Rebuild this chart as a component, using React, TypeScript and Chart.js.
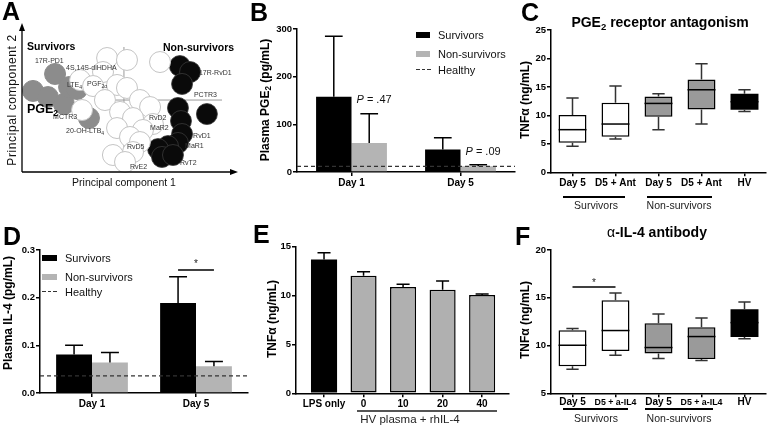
import React, { useEffect, useRef } from 'react';
import { Chart, registerables } from 'chart.js';

Chart.register(...registerables);

const FONT = '"Liberation Sans", Arial, Helvetica, sans-serif';

/* ---------------- Panel A : principal component scores ---------------- */
const neutralPC1 = [39.4, 48.6, 63.9, 37.5, 26.9, 32.9, 44.0, 48.6, 38.4, 54.6, 59.3, 27.8, 45.4, 51.4, 60.6, 44.0, 56.0, 50.0, 54.6, 51.4, 42.1, 47.7];
const neutralPC2 = [76.5, 75.2, 73.8, 67.1, 61.7, 57.7, 58.4, 56.4, 48.3, 48.3, 43.6, 41.6, 40.3, 36.2, 32.2, 29.5, 28.2, 23.5, 20.1, 13.4, 11.4, 6.7];
const survivorPC1 = [15.3, 5.1, 12.0, 19.4, 21.8, 25.5, 31.0];
const survivorPC2 = [65.8, 54.4, 50.3, 45.6, 57.0, 55.7, 36.2];
const nonSurvivorPC1 = [73.1, 77.8, 74.1, 72.2, 73.6, 85.6, 74.1, 72.2, 67.6, 63.0, 64.8, 69.9];
const nonSurvivorPC2 = [71.1, 67.1, 59.1, 43.0, 34.2, 38.9, 25.5, 19.5, 17.4, 15.4, 10.1, 11.4];
const mediatorNames = ['17R-PD1', '4S,14S-diHDHA', 'LTE', 'PGF', 'MCTR3', '20-OH-LTB', '17R-RvD1', 'PCTR3', 'RvD2', 'MaR2', 'RvD1', 'MaR1', 'RvD5', 'RvT2', 'RvE2'];
const mediatorSubs = ['', '', '4', '2\u03b1', '', '4', '', '', '', '', '', '', '', '', ''];
const mediatorPC1 = [6.0, 20.4, 20.8, 30.1, 14.4, 20.4, 81.9, 79.6, 58.8, 59.3, 79.2, 75.5, 48.6, 73.1, 50.0];
const mediatorPC2 = [74.5, 69.8, 58.4, 59.1, 36.9, 27.5, 66.4, 51.7, 36.2, 29.5, 24.2, 17.4, 16.8, 6.0, 3.4];
const keyMediator = 'PGE';
const keyMediatorSub = '2';
const keyMediatorPC1 = 2.3;
const keyMediatorPC2 = 41.6;
const guidePC1 = 47.2;
const guidePC2Span = [4.7, 83.9];
const guidePC2 = 48.3;
const guidePC1Span = [36.1, 92.6];

/* ---------------- Panel B : plasma PGE2 ---------------- */
const dayLabels = ['Day 1', 'Day 5'];
const pgeSurvivors = [158, 47];
const pgeSurvivorsErr = [127, 25];
const pgeNonSurvivors = [61, 12];
const pgeNonSurvivorsErr = [61, 3];
const pgeHealthy = 12;
const pgePValues = ['.47', '.09'];
const pgePValueY = [151, 42.6];

/* ---------------- Panel C : PGE2 receptor antagonism ---------------- */
const antLabels = ['Day 5', 'D5 + Ant', 'Day 5', 'D5 + Ant', 'HV'];
const antMin = [4.56, 5.85, 7.49, 8.48, 10.7];
const antQ1 = [5.2, 6.26, 9.77, 11.05, 11.0];
const antMedian = [7.49, 8.48, 12.1, 14.5, 12.4];
const antQ3 = [10.06, 12.22, 13.33, 16.3, 13.8];
const antMax = [13.04, 15.15, 13.8, 19.06, 14.5];

/* ---------------- Panel D : plasma IL-4 ---------------- */
const il4Survivors = [0.081, 0.189];
const il4SurvivorsErr = [0.019, 0.055];
const il4NonSurvivors = [0.064, 0.056];
const il4NonSurvivorsErr = [0.021, 0.010];
const il4Healthy = 0.036;
const il4SigLine = 0.258;
const il4SigStar = 0.275;

/* ---------------- Panel E : rhIL-4 ---------------- */
const rhLabels = ['LPS only', '0', '10', '20', '40'];
const rhTnf = [13.7, 12.04, 10.88, 10.6, 10.06];
const rhTnfErr = [0.69, 0.40, 0.27, 0.89, 0.10];

/* ---------------- Panel F : anti-IL-4 antibody ---------------- */
const abLabels = ['Day 5', 'D5 + a-IL4', 'Day 5', 'D5 + a-IL4', 'HV'];
const abMin = [7.52, 8.99, 8.64, 8.43, 10.7];
const abQ1 = [7.83, 9.44, 9.16, 8.6, 10.9];
const abMedian = [10.03, 11.57, 9.79, 10.94, 12.4];
const abQ3 = [11.6, 14.75, 12.34, 11.92, 13.8];
const abMax = [11.78, 15.5, 13.3, 12.87, 14.55];
const abSigLine = 16.13;
const abSigStar = 16.75;

/* ---------------- layout helpers ---------------- */
type Box = { x: number; y: number; w: number; h: number };
type Area = { l: number; t: number; r: number; b: number };

const Y_W = 30;
const X_H = 20;

function frame(box: Box, area: Area) {
  return {
    padding: {
      left: area.l - box.x - Y_W,
      top: area.t - box.y,
      right: box.x + box.w - area.r,
      bottom: box.y + box.h - area.b - X_H,
    },
    fitY: (s: any) => { s.width = Y_W; },
    fitX: (s: any) => { s.height = X_H; },
  };
}

const axisBorder = { display: true, color: '#000', width: 1.5 };
const axisGrid = { display: true, drawOnChartArea: false, drawTicks: true, tickLength: 4, color: '#000', lineWidth: 1.5 };

function yLin(min: number, max: number, step: number, fit: any, fmt?: (v: number) => string) {
  return {
    type: 'linear', min, max,
    border: axisBorder,
    grid: axisGrid,
    ticks: {
      stepSize: step, color: '#000', padding: 1,
      font: { family: FONT, size: 9.5, weight: 'bold' },
      callback: (v: number) => (fmt ? fmt(v) : String(v)),
    },
    afterFit: fit,
  };
}

function xCat(fit: any, labelSize?: (label: string) => number, pad = 1) {
  return {
    type: 'category', offset: true,
    border: axisBorder,
    grid: { ...axisGrid, offset: false },
    ticks: {
      color: '#000', padding: pad, maxRotation: 0, minRotation: 0, autoSkip: false,
      font: (c: any) => ({ family: FONT, size: labelSize && c.tick ? labelSize(String(c.tick.label)) : 10, weight: 'bold', lineHeight: '12px' }),
    },
    afterFit: fit,
  };
}

const baseOptions = {
  responsive: false,
  maintainAspectRatio: false,
  animation: false,
  events: [],
  plugins: { legend: { display: false }, tooltip: { enabled: false }, title: { display: false } },
};

/* ---------------- plugins ---------------- */
function errorBarsPlugin(series: { means: number[]; errs: number[] }[]) {
  return {
    id: 'errorBars',
    afterDatasetsDraw(chart: any) {
      const { ctx } = chart;
      const ys = chart.scales.y;
      ctx.save();
      ctx.strokeStyle = '#000';
      ctx.lineWidth = 1.5;
      series.forEach((s, di) => {
        const meta = chart.getDatasetMeta(di);
        meta.data.forEach((el: any, i: number) => {
          const top = ys.getPixelForValue(s.means[i] + s.errs[i]);
          const base = ys.getPixelForValue(s.means[i]);
          const half = el.width * 0.25;
          ctx.beginPath();
          ctx.moveTo(el.x, base);
          ctx.lineTo(el.x, top);
          ctx.moveTo(el.x - half, top);
          ctx.lineTo(el.x + half, top);
          ctx.stroke();
        });
      });
      ctx.restore();
    },
  };
}

function healthyPlugin(value: number) {
  return {
    id: 'healthyLine',
    afterDatasetsDraw(chart: any) {
      const { ctx, chartArea: a } = chart;
      const y = chart.scales.y.getPixelForValue(value);
      ctx.save();
      ctx.strokeStyle = '#333';
      ctx.lineWidth = 1.3;
      ctx.setLineDash([4, 3]);
      ctx.beginPath();
      ctx.moveTo(a.left, y);
      ctx.lineTo(a.right, y);
      ctx.stroke();
      ctx.restore();
    },
  };
}

function pValuePlugin(texts: string[], values: number[], dsIndex: number) {
  return {
    id: 'pValues',
    afterDatasetsDraw(chart: any) {
      const { ctx } = chart;
      const ys = chart.scales.y;
      const meta = chart.getDatasetMeta(dsIndex);
      ctx.save();
      ctx.fillStyle = '#111';
      ctx.textBaseline = 'middle';
      ctx.textAlign = 'left';
      meta.data.forEach((el: any, i: number) => {
        const x = el.x - el.width / 2 + 5;
        const y = ys.getPixelForValue(values[i]);
        ctx.font = `italic 11px ${FONT}`;
        ctx.fillText('P', x, y);
        const w = ctx.measureText('P').width;
        ctx.font = `11px ${FONT}`;
        ctx.fillText(' = ' + texts[i], x + w, y);
      });
      ctx.restore();
    },
  };
}

function sigPlugin(a: [number, number], b: [number, number], lineValue: number, starValue: number) {
  return {
    id: 'significance',
    afterDatasetsDraw(chart: any) {
      const { ctx } = chart;
      const ys = chart.scales.y;
      const xa = chart.getDatasetMeta(a[0]).data[a[1]].x;
      const xb = chart.getDatasetMeta(b[0]).data[b[1]].x;
      ctx.save();
      ctx.strokeStyle = '#000';
      ctx.lineWidth = 1.5;
      ctx.beginPath();
      ctx.moveTo(xa, ys.getPixelForValue(lineValue));
      ctx.lineTo(xb, ys.getPixelForValue(lineValue));
      ctx.stroke();
      ctx.fillStyle = '#222';
      ctx.font = `10px ${FONT}`;
      ctx.textAlign = 'center';
      ctx.textBaseline = 'middle';
      ctx.fillText('*', (xa + xb) / 2, ys.getPixelForValue(starValue) + 2);
      ctx.restore();
    },
  };
}

function whiskerPlugin(mins: number[], q1: number[], med: number[], q3: number[], maxs: number[]) {
  return {
    id: 'whiskers',
    afterDatasetsDraw(chart: any) {
      const { ctx } = chart;
      const ys = chart.scales.y;
      const meta = chart.getDatasetMeta(0);
      ctx.save();
      meta.data.forEach((el: any, i: number) => {
        const x = el.x;
        const w = el.width;
        const cap = w * 0.22;
        ctx.strokeStyle = '#333';
        ctx.lineWidth = 1.5;
        ctx.beginPath();
        ctx.moveTo(x, ys.getPixelForValue(q3[i]));
        ctx.lineTo(x, ys.getPixelForValue(maxs[i]));
        ctx.moveTo(x - cap, ys.getPixelForValue(maxs[i]));
        ctx.lineTo(x + cap, ys.getPixelForValue(maxs[i]));
        ctx.moveTo(x, ys.getPixelForValue(q1[i]));
        ctx.lineTo(x, ys.getPixelForValue(mins[i]));
        ctx.moveTo(x - cap, ys.getPixelForValue(mins[i]));
        ctx.lineTo(x + cap, ys.getPixelForValue(mins[i]));
        ctx.stroke();
        ctx.strokeStyle = '#000';
        ctx.beginPath();
        ctx.moveTo(x - w / 2, ys.getPixelForValue(med[i]));
        ctx.lineTo(x + w / 2, ys.getPixelForValue(med[i]));
        ctx.stroke();
      });
      ctx.restore();
    },
  };
}

const pcaPlugin = {
  id: 'pcaDecor',
  beforeDatasetsDraw(chart: any) {
    const { ctx } = chart;
    const { x, y } = chart.scales;
    ctx.save();
    ctx.strokeStyle = '#9a9a9a';
    ctx.lineWidth = 1;
    ctx.beginPath();
    ctx.moveTo(x.getPixelForValue(guidePC1), y.getPixelForValue(guidePC2Span[0]));
    ctx.lineTo(x.getPixelForValue(guidePC1), y.getPixelForValue(guidePC2Span[1]));
    ctx.moveTo(x.getPixelForValue(guidePC1Span[0]), y.getPixelForValue(guidePC2));
    ctx.lineTo(x.getPixelForValue(guidePC1Span[1]), y.getPixelForValue(guidePC2));
    ctx.stroke();
    ctx.restore();
  },
  afterDatasetsDraw(chart: any) {
    const { ctx, chartArea: a } = chart;
    const { x, y } = chart.scales;
    ctx.save();
    ctx.strokeStyle = '#000';
    ctx.fillStyle = '#000';
    ctx.lineWidth = 1.3;
    ctx.beginPath();
    ctx.moveTo(a.left, a.bottom);
    ctx.lineTo(a.left, a.top + 6);
    ctx.moveTo(a.left, a.bottom);
    ctx.lineTo(a.right - 6, a.bottom);
    ctx.stroke();
    ctx.beginPath();
    ctx.moveTo(a.left, a.top);
    ctx.lineTo(a.left - 3, a.top + 8);
    ctx.lineTo(a.left + 3, a.top + 8);
    ctx.closePath();
    ctx.moveTo(a.right, a.bottom);
    ctx.lineTo(a.right - 8, a.bottom - 3);
    ctx.lineTo(a.right - 8, a.bottom + 3);
    ctx.closePath();
    ctx.fill();
    ctx.textBaseline = 'middle';
    ctx.textAlign = 'left';
    ctx.fillStyle = '#333';
    mediatorNames.forEach((name, i) => {
      const px = x.getPixelForValue(mediatorPC1[i]);
      const py = y.getPixelForValue(mediatorPC2[i]);
      ctx.font = `7px ${FONT}`;
      ctx.fillText(name, px, py);
      if (mediatorSubs[i]) {
        const w = ctx.measureText(name).width;
        ctx.font = `5px ${FONT}`;
        ctx.fillText(mediatorSubs[i], px + w, py + 2.5);
      }
    });
    const kx = x.getPixelForValue(keyMediatorPC1);
    const ky = y.getPixelForValue(keyMediatorPC2);
    ctx.fillStyle = '#000';
    ctx.font = `bold 12.5px ${FONT}`;
    ctx.fillText(keyMediator, kx, ky);
    const kw = ctx.measureText(keyMediator).width;
    ctx.font = `bold 8.5px ${FONT}`;
    ctx.fillText(keyMediatorSub, kx + kw, ky + 4);
    ctx.restore();
  },
};

/* ---------------- chart configs ---------------- */
const boxA: Box = { x: 0, y: 0, w: 250, h: 200 };
const boxB: Box = { x: 250, y: 0, w: 270, h: 215 };
const boxC: Box = { x: 510, y: 0, w: 257, h: 215 };
const boxD: Box = { x: 0, y: 215, w: 255, h: 217 };
const boxE: Box = { x: 250, y: 215, w: 265, h: 217 };
const boxF: Box = { x: 510, y: 215, w: 257, h: 217 };

const pts = (xs: number[], ys: number[]) => xs.map((v, i) => ({ x: v, y: ys[i] }));

function makeA() {
  return {
    type: 'scatter',
    data: {
      datasets: [
        { data: pts(neutralPC1, neutralPC2), backgroundColor: '#fff', borderColor: '#c4c4c4', borderWidth: 1, pointRadius: 10.5, clip: false },
        { data: pts(survivorPC1, survivorPC2), backgroundColor: '#8c8c8c', borderColor: '#8c8c8c', borderWidth: 1, pointRadius: 10.5, clip: false },
        { data: pts(nonSurvivorPC1, nonSurvivorPC2), backgroundColor: '#0a0a0a', borderColor: '#3a3a3a', borderWidth: 0.8, pointRadius: 10.5, clip: false },
      ],
    },
    options: {
      ...baseOptions,
      layout: { padding: { left: 22, top: 23, right: 12, bottom: 28 }, autoPadding: false },
      scales: {
        x: { type: 'linear', min: 0, max: 100, display: false },
        y: { type: 'linear', min: 0, max: 100, display: false },
      },
    },
    plugins: [pcaPlugin],
  };
}

function makeGroupedBars(box: Box, area: Area, surv: number[], non: number[], yScale: any, catPct: number) {
  return {
    type: 'bar',
    data: {
      labels: dayLabels,
      datasets: [
        { label: 'Survivors', data: surv, backgroundColor: '#000', barPercentage: 1, categoryPercentage: catPct },
        { label: 'Non-survivors', data: non, backgroundColor: '#b4b4b4', barPercentage: 1, categoryPercentage: catPct },
      ],
    },
    options: {
      ...baseOptions,
      layout: { padding: frame(box, area).padding, autoPadding: false },
      scales: { x: xCat(frame(box, area).fitX), y: yScale },
    },
  };
}

function makeB() {
  const area = { l: 297, t: 29, r: 515, b: 172 };
  const cfg: any = makeGroupedBars(boxB, area, pgeSurvivors, pgeNonSurvivors, yLin(0, 300, 100, frame(boxB, area).fitY), 0.65);
  cfg.plugins = [
    errorBarsPlugin([{ means: pgeSurvivors, errs: pgeSurvivorsErr }, { means: pgeNonSurvivors, errs: pgeNonSurvivorsErr }]),
    healthyPlugin(pgeHealthy),
    pValuePlugin(pgePValues, pgePValueY, 1),
  ];
  return cfg;
}

function makeD() {
  const area = { l: 40, t: 250, r: 248, b: 393 };
  const cfg: any = makeGroupedBars(boxD, area, il4Survivors, il4NonSurvivors, yLin(0, 0.3, 0.1, frame(boxD, area).fitY, (v) => v.toFixed(1)), 0.69);
  cfg.plugins = [
    errorBarsPlugin([{ means: il4Survivors, errs: il4SurvivorsErr }, { means: il4NonSurvivors, errs: il4NonSurvivorsErr }]),
    healthyPlugin(il4Healthy),
    sigPlugin([0, 1], [1, 1], il4SigLine, il4SigStar),
  ];
  return cfg;
}

function makeBox(box: Box, area: Area, labels: string[], mins: number[], q1: number[], med: number[], q3: number[], maxs: number[], yMin: number, yMax: number, extra: any[], labelSize?: (l: string) => number, pad = 1) {
  const f = frame(box, area);
  const fills = ['#fff', '#fff', '#9a9a9a', '#9a9a9a', '#000'];
  return {
    type: 'bar',
    data: {
      labels,
      datasets: [{
        data: q1.map((v, i) => [v, q3[i]]),
        backgroundColor: fills,
        borderColor: '#000',
        borderWidth: (c: any) => (fills[c.dataIndex] === '#000' ? 0 : 1.5),
        borderSkipped: false,
        inflateAmount: 0,
        barPercentage: 0.65,
        categoryPercentage: 1,
      }],
    },
    options: {
      ...baseOptions,
      layout: { padding: f.padding, autoPadding: false },
      scales: { x: xCat(f.fitX, labelSize, pad), y: yLin(yMin, yMax, 5, f.fitY) },
    },
    plugins: [whiskerPlugin(mins, q1, med, q3, maxs), ...extra],
  };
}

function makeC() {
  return makeBox(boxC, { l: 551, t: 30, r: 766, b: 172.3 }, antLabels, antMin, antQ1, antMedian, antQ3, antMax, 0, 25, []);
}

function makeF() {
  return makeBox(
    boxF, { l: 551, t: 250, r: 766, b: 393.3 }, abLabels, abMin, abQ1, abMedian, abQ3, abMax, 5, 20,
    [sigPlugin([0, 0], [0, 1], abSigLine, abSigStar)],
    (l) => (l.length > 6 ? 8.8 : 10),
    -1,
  );
}

function makeE() {
  const area = { l: 296, t: 246.7, r: 509, b: 393.3 };
  const f = frame(boxE, area);
  return {
    type: 'bar',
    data: {
      datasets: [{
        data: rhTnf.map((v, i) => ({ x: i, y: v })),
        backgroundColor: rhTnf.map((_, i) => (i === 0 ? '#000' : '#b0b0b0')),
        borderColor: '#000',
        borderWidth: (c: any) => (c.dataIndex === 0 ? 0 : 1.5),
        borderSkipped: false,
        inflateAmount: 0,
        barPercentage: 0.66,
        categoryPercentage: 1,
      }],
    },
    options: {
      ...baseOptions,
      layout: { padding: f.padding, autoPadding: false },
      scales: {
        x: {
          type: 'linear', min: -0.709, max: 4.68, offset: false,
          border: axisBorder,
          grid: { ...axisGrid, offset: false },
          ticks: {
            stepSize: 1, includeBounds: false, padding: 1, color: '#000', maxRotation: 0, autoSkip: false,
            font: { family: FONT, size: 10, weight: 'bold' },
            callback: (v: number) => (Number.isInteger(v) && rhLabels[v] !== undefined ? rhLabels[v] : ''),
          },
          afterFit: f.fitX,
        },
        y: yLin(0, 15, 5, f.fitY),
      },
    },
    plugins: [errorBarsPlugin([{ means: rhTnf, errs: rhTnfErr }])],
  };
}

/* ---------------- React pieces ---------------- */
function ChartCanvas({ box, make }: { box: Box; make: () => any }) {
  const ref = useRef<HTMLCanvasElement>(null);
  useEffect(() => {
    const chart = new Chart(ref.current as HTMLCanvasElement, make());
    return () => chart.destroy();
  }, []);
  return (
    <canvas
      ref={ref}
      width={box.w}
      height={box.h}
      style={{ position: 'absolute', left: box.x, top: box.y, width: box.w, height: box.h }}
    />
  );
}

function Txt({ x, y, size = 11, bold = false, italic = false, align = 'center', rotate = false, color = '#000', spacing = 0, children }: any) {
  const tx = align === 'left' ? '0%' : align === 'right' ? '-100%' : '-50%';
  return (
    <div
      style={{
        position: 'absolute', left: x, top: y,
        transform: `translate(${tx}, -50%)` + (rotate ? ' rotate(-90deg)' : ''),
        fontFamily: FONT, fontSize: size, fontWeight: bold ? 700 : 400, fontStyle: italic ? 'italic' : 'normal',
        lineHeight: 1, whiteSpace: 'nowrap', color, letterSpacing: spacing,
      }}
    >
      {children}
    </div>
  );
}

const Sub = ({ children }: any) => (
  <span style={{ fontSize: '0.68em', position: 'relative', top: '0.3em' }}>{children}</span>
);

function Letter({ x, y, children }: any) {
  return (
    <div style={{ position: 'absolute', left: x, top: y, fontFamily: FONT, fontSize: 25, fontWeight: 700, lineHeight: '25px', color: '#000' }}>
      {children}
    </div>
  );
}

const Rect = ({ x, y, w, h, c }: any) => (
  <div style={{ position: 'absolute', left: x, top: y, width: w, height: h, background: c }} />
);

function Dashes({ x, y }: any) {
  return (
    <>
      {[0, 1, 2].map((i) => (
        <Rect key={i} x={x + i * 5.5} y={y} w={3.5} h={1.4} c="#333" />
      ))}
    </>
  );
}

export default function App() {
  return (
    <div style={{ position: 'fixed', left: 0, top: 0, width: 767, height: 432, background: '#fff', overflow: 'hidden' }}>
      <ChartCanvas box={boxA} make={makeA} />
      <ChartCanvas box={boxB} make={makeB} />
      <ChartCanvas box={boxC} make={makeC} />
      <ChartCanvas box={boxD} make={makeD} />
      <ChartCanvas box={boxE} make={makeE} />
      <ChartCanvas box={boxF} make={makeF} />

      {/* panel letters */}
      <Letter x={2} y={-1}>A</Letter>
      <Letter x={250} y={0}>B</Letter>
      <Letter x={521} y={0}>C</Letter>
      <Letter x={3} y={224}>D</Letter>
      <Letter x={253} y={222}>E</Letter>
      <Letter x={515} y={224}>F</Letter>

      {/* Panel A text */}
      <Txt x={27} y={46} size={10.5} bold align="left">Survivors</Txt>
      <Txt x={163} y={47} size={10.5} bold align="left">Non-survivors</Txt>
      <Txt x={12} y={100} size={12} rotate spacing={0.6} color="#111">Principal component 2</Txt>
      <Txt x={124} y={182} size={10.5} color="#111">Principal component 1</Txt>

      {/* Panel B */}
      <Txt x={265} y={100} size={12} bold rotate>Plasma PGE<Sub>2</Sub> (pg/mL)</Txt>
      <Rect x={416} y={32} w={14} h={6} c="#000" />
      <Txt x={438} y={35} size={11} align="left" color="#111">Survivors</Txt>
      <Rect x={416} y={51} w={14} h={6} c="#b4b4b4" />
      <Txt x={438} y={54} size={11} align="left" color="#111">Non-survivors</Txt>
      <Dashes x={416} y={69} />
      <Txt x={438} y={70} size={11} align="left" color="#111">Healthy</Txt>

      {/* Panel C */}
      <Txt x={660} y={22} size={14} bold>PGE<Sub>2</Sub> receptor antagonism</Txt>
      <Txt x={525} y={100} size={12} bold rotate>TNF&alpha; (ng/mL)</Txt>
      <Rect x={563} y={196} w={62} h={1.5} c="#000" />
      <Rect x={647} y={196} w={65} h={1.5} c="#000" />
      <Txt x={596} y={205} size={10.5} color="#222">Survivors</Txt>
      <Txt x={679} y={205} size={10.5} color="#222">Non-survivors</Txt>

      {/* Panel D */}
      <Txt x={8} y={313} size={12} bold rotate>Plasma IL-4 (pg/mL)</Txt>
      <Rect x={42} y={255} w={15} h={6} c="#000" />
      <Txt x={65} y={258} size={11} align="left" color="#111">Survivors</Txt>
      <Rect x={42} y={274} w={15} h={6} c="#b4b4b4" />
      <Txt x={65} y={277} size={11} align="left" color="#111">Non-survivors</Txt>
      <Dashes x={42} y={291} />
      <Txt x={65} y={292} size={11} align="left" color="#111">Healthy</Txt>

      {/* Panel E */}
      <Txt x={272} y={319} size={12} bold rotate>TNF&alpha; (ng/mL)</Txt>
      <Rect x={357} y={410} w={140} h={1.5} c="#555" />
      <Txt x={410} y={420} size={11.5} color="#222">HV plasma + rhIL-4</Txt>

      {/* Panel F */}
      <Txt x={657} y={232} size={14} bold><span style={{ fontWeight: 400 }}>&alpha;</span>-IL-4 antibody</Txt>
      <Txt x={525} y={320} size={12} bold rotate>TNF&alpha; (ng/mL)</Txt>
      <Rect x={563} y={408} w={65} h={1.5} c="#000" />
      <Rect x={645} y={408} w={68} h={1.5} c="#000" />
      <Txt x={596} y={418} size={10.5} color="#222">Survivors</Txt>
      <Txt x={679} y={418} size={10.5} color="#222">Non-survivors</Txt>
    </div>
  );
}
